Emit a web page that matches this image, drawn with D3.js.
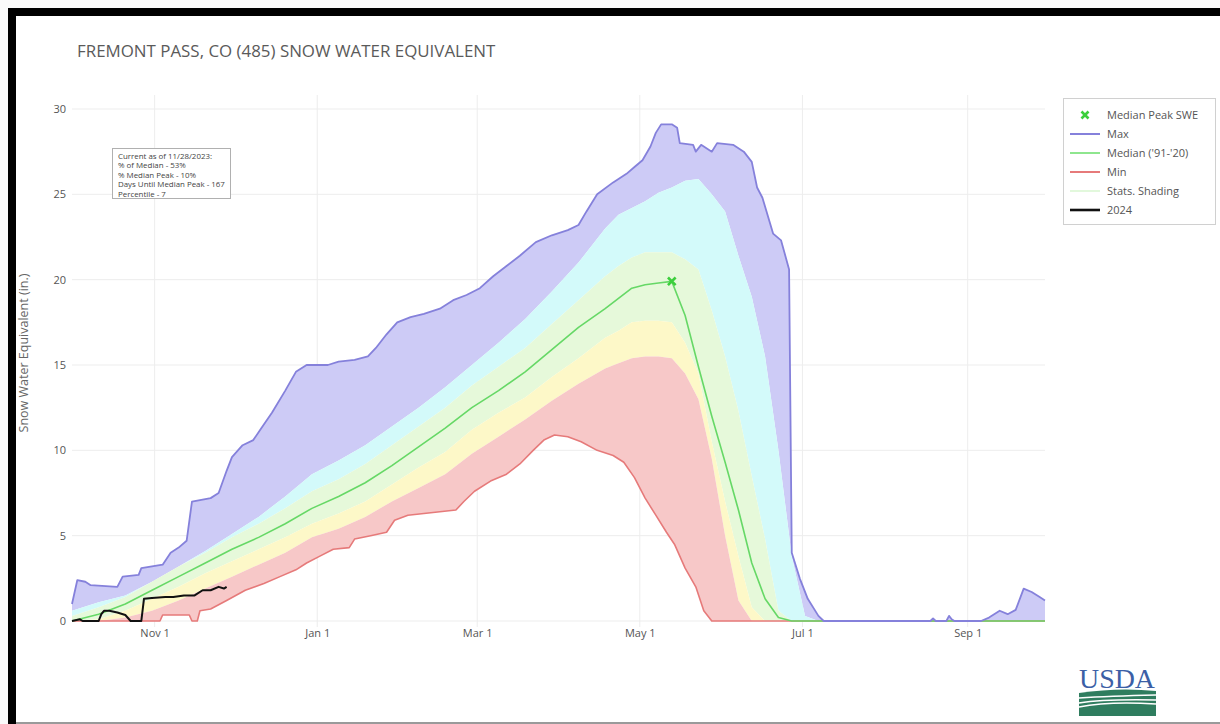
<!DOCTYPE html>
<html>
<head>
<meta charset="utf-8">
<script src="https://cdn.jsdelivr.net/npm/d3@7"></script>
<style>
  body { margin: 0; background: #fafafa; }
  svg { display: block; font-family: "Open Sans", sans-serif; }
</style>
</head>
<body>
<svg id="chart"></svg>
<script>
// days are counted from Oct 1 (start of the water year)
const pctDays = [0,10,20,30,40,50,60,70,80,90,100,110,120,130,140,150,160,170,180,190,200,205,210,215,220,225,230,235,240,245,250,255,260,265,270,275,280,290,365];
const p90 =    [0.6,1.1,1.5,2.3,3.2,4.1,5.1,6.1,7.3,8.6,9.4,10.3,11.4,12.5,13.7,15.0,16.3,17.7,19.3,21.0,23.0,23.8,24.2,24.6,25.1,25.4,25.8,25.9,25.0,24.0,21.4,19.0,15.5,10.0,3.8,0.3,0,0,0];
const p70 =    [0.3,0.8,1.4,2.3,3.2,4.0,4.9,5.7,6.6,7.6,8.3,9.2,10.3,11.4,12.5,13.8,14.9,16.0,17.4,18.8,20.2,20.8,21.3,21.6,21.6,21.6,21.2,20.6,18.2,15.5,12.3,8.5,4.8,0.6,0,0,0,0,0];
const median = [0,0.4,1.0,1.8,2.6,3.4,4.2,4.9,5.7,6.6,7.3,8.1,9.1,10.2,11.3,12.5,13.5,14.6,15.9,17.2,18.3,18.9,19.5,19.7,19.8,19.9,17.9,14.9,12.0,9.3,6.5,3.4,1.3,0.2,0,0,0,0,0];
const p30 =    [0,0.1,0.6,1.3,2.0,2.8,3.5,4.2,4.9,5.7,6.3,7.0,8.0,9.0,9.9,11.2,12.2,13.1,14.3,15.4,16.6,17.0,17.5,17.6,17.6,17.5,16.3,14.5,10.5,7.0,3.8,0.8,0,0,0,0,0,0,0];
const p10 =    [0,0,0.2,0.6,1.2,1.9,2.6,3.3,4.0,4.9,5.4,6.1,7.0,7.8,8.6,9.8,10.8,11.8,12.9,13.9,14.8,15.1,15.4,15.5,15.5,15.4,14.5,13.0,9.5,5.0,1.2,0,0,0,0,0,0,0,0];

// [day, inches]
const maxSwe = [[0,1.0],[2,2.4],[5,2.3],[7,2.1],[17,2.0],[19,2.6],[25,2.7],[26,3.1],[34,3.3],[37,4.0],[40,4.3],[43,4.7],[45,7.0],[52,7.2],[55,7.5],[58,8.8],[60,9.6],[64,10.3],[68,10.6],[71,11.3],[75,12.2],[80,13.5],[84,14.6],[88,15.0],[96,15.0],[100,15.2],[106,15.3],[111,15.5],[114,16.0],[118,16.8],[122,17.5],[127,17.8],[132,18.0],[138,18.3],[143,18.8],[148,19.1],[153,19.5],[158,20.2],[163,20.8],[168,21.4],[174,22.2],[180,22.6],[186,22.9],[190,23.2],[193,24.0],[197,25.0],[203,25.7],[208,26.2],[211,26.6],[214,27.0],[217,27.8],[219,28.6],[221,29.1],[225,29.1],[227,28.9],[228,28.0],[233,27.9],[234,27.5],[236,27.9],[240,27.5],[242,28.0],[248,27.9],[252,27.5],[255,26.9],[257,25.4],[259,24.8],[263,22.7],[266,22.3],[269,20.6],[270,4.0],[273,2.5],[276,1.3],[280,0.3],[282,0],[322,0],[323,0.15],[324,0],[328,0],[329,0.3],[330,0.1],[331,0],[341,0],[344,0.2],[348,0.6],[351,0.4],[354,0.65],[357,1.9],[360,1.7],[363,1.4],[365,1.2]];
const minSwe = [[0,0],[33,0],[34,0.35],[44,0.35],[45,0],[47,0],[48,0.6],[52,0.7],[58,1.2],[65,1.8],[72,2.2],[78,2.6],[84,3.0],[88,3.4],[93,3.8],[98,4.2],[104,4.3],[106,4.8],[112,5.0],[118,5.2],[121,5.9],[126,6.2],[132,6.3],[138,6.4],[144,6.5],[147,7.0],[151,7.6],[157,8.2],[163,8.6],[168,9.2],[173,10.0],[177,10.6],[181,10.9],[186,10.8],[191,10.5],[197,10.0],[203,9.7],[207,9.3],[211,8.4],[215,7.2],[219,6.2],[223,5.2],[226,4.5],[230,3.1],[234,2.0],[237,0.6],[240,0],[365,0]];
const wy2024 = [[0,0],[3,0.1],[4,0],[10,0],[11,0.4],[12,0.6],[14,0.6],[17,0.5],[20,0.35],[22,0],[26,0],[27,1.3],[30,1.35],[35,1.4],[38,1.4],[42,1.5],[46,1.5],[49,1.8],[52,1.8],[55,2.0],[57,1.9],[58,2.0]];
const medianPeak = [225, 19.9];

const xTickDays = [31, 92, 152, 213, 274, 336];
const xTickLabels = ["Nov 1", "Jan 1", "Mar 1", "May 1", "Jul 1", "Sep 1"];
const yTicks = [0, 5, 10, 15, 20, 25, 30];

const infoLines = ["Current as of 11/28/2023:", "% of Median - 53%", "% Median Peak - 10%", "Days Until Median Peak - 167", "Percentile - 7"];
const legendLabels = ["Median Peak SWE", "Max", "Median ('91-'20)", "Min", "Stats. Shading", "2024"];

class SweChart {
  constructor(_config) {
    this.config = {
      parentElement: _config.parentElement,
      width: 1220,
      height: 724,
      left: 72, right: 1045, top: 109, bottom: 621
    };
    this.initVis();
  }

  initVis() {
    let vis = this;
    const start = Date.UTC(2023, 9, 1);
    vis.toDate = d => new Date(start + d * 864e5);

    vis.svg = d3.select(vis.config.parentElement)
      .attr('width', vis.config.width)
      .attr('height', vis.config.height);

    // page frame
    vis.svg.append('rect').attr('x', 8).attr('y', 8).attr('width', 1212).attr('height', 716).attr('fill', '#fff');
    vis.svg.append('rect').attr('x', 8).attr('y', 8).attr('width', 1212).attr('height', 8).attr('fill', '#000');
    vis.svg.append('rect').attr('x', 8).attr('y', 8).attr('width', 8).attr('height', 716).attr('fill', '#000');
    vis.svg.append('rect').attr('x', 16).attr('y', 722).attr('width', 1204).attr('height', 2).attr('fill', '#9a9a9a');

    vis.xScale = d3.scaleUtc()
      .domain([vis.toDate(0), vis.toDate(365)])
      .range([vis.config.left, vis.config.right]);
    vis.yScale = d3.scaleLinear()
      .domain([0, 30])
      .range([vis.config.bottom, vis.config.top]);

    vis.svg.append('text')
      .attr('x', 77).attr('y', 57)
      .attr('font-size', '16.9px')
      .attr('fill', '#5a5a5a')
      .text('FREMONT PASS, CO (485) SNOW WATER EQUIVALENT');

    vis.svg.append('text')
      .attr('transform', 'translate(28,353) rotate(-90)')
      .attr('text-anchor', 'middle')
      .attr('font-size', '12.5px')
      .attr('fill', '#666')
      .text('Snow Water Equivalent (in.)');

    vis.gridG = vis.svg.append('g');
    vis.chart = vis.svg.append('g');
    vis.renderVis();
  }

  renderVis() {
    let vis = this;
    const x = d => vis.xScale(vis.toDate(d[0]));
    const y = d => vis.yScale(d[1]);
    const line = d3.line().x(x).y(y);
    const zip = vals => pctDays.map((d, i) => [d, vals[i]]);

    // gridlines
    vis.gridG.selectAll('.hgrid').data(yTicks).join('line')
      .attr('x1', vis.config.left).attr('x2', vis.config.right)
      .attr('y1', d => vis.yScale(d)).attr('y2', d => vis.yScale(d))
      .attr('stroke', '#ededed');
    vis.gridG.selectAll('.vgrid').data(xTickDays).join('line')
      .attr('x1', d => vis.xScale(vis.toDate(d))).attr('x2', d => vis.xScale(vis.toDate(d)))
      .attr('y1', 95).attr('y2', 627)
      .attr('stroke', '#ededed');

    // axes
    const yAxis = d3.axisLeft(vis.yScale).tickValues(yTicks).tickSize(0).tickPadding(6);
    const yAxisG = vis.svg.append('g').attr('transform', `translate(${vis.config.left},0)`).call(yAxis);
    const xAxis = d3.axisBottom(vis.xScale)
      .tickValues(xTickDays.map(vis.toDate))
      .tickFormat((d, i) => xTickLabels[i])
      .tickSize(0).tickPadding(8);
    const xAxisG = vis.svg.append('g').attr('transform', `translate(0,${vis.config.bottom})`).call(xAxis);
    [xAxisG, yAxisG].forEach(g => {
      g.select('.domain').remove();
      g.selectAll('text').attr('font-family', '"Open Sans", sans-serif').attr('font-size', '11px').attr('fill', '#555');
    });

    // shaded bands: upper edge forward, lower edge back
    const band = (upper, lower) => line(upper.concat(lower.slice().reverse())) + 'Z';
    const bands = [
      {up: maxSwe, lo: zip(p90), fill: '#cdcbf6'},
      {up: zip(p90), lo: zip(p70), fill: '#d3fafa'},
      {up: zip(p70), lo: zip(p30), fill: '#e6f9da'},
      {up: zip(p30), lo: zip(p10), fill: '#fdf8c8'},
      {up: zip(p10), lo: minSwe, fill: '#f7c8c8'}
    ];
    vis.chart.selectAll('.band').data(bands).join('path')
      .attr('class', 'band')
      .attr('d', d => band(d.up, d.lo))
      .attr('fill', d => d.fill)
      .attr('stroke', 'none');

    const lines = [
      {data: minSwe, color: '#e67a7a', w: 1.6},
      {data: zip(median), color: '#66d866', w: 1.6},
      {data: maxSwe, color: '#8581db', w: 1.8},
      {data: wy2024, color: '#111', w: 2}
    ];
    vis.chart.selectAll('.sline').data(lines).join('path')
      .attr('class', 'sline')
      .attr('d', d => line(d.data))
      .attr('fill', 'none')
      .attr('stroke', d => d.color)
      .attr('stroke-width', d => d.w)
      .attr('stroke-linejoin', 'round');

    // median peak marker
    const px = x(medianPeak), py = y(medianPeak);
    vis.chart.append('path')
      .attr('d', d3.symbol(d3.symbolX, 40)())
      .attr('transform', `translate(${px},${py})`)
      .attr('stroke', '#3ccf3c').attr('stroke-width', 2.6).attr('fill', 'none');

    // info box
    const info = vis.svg.append('g');
    info.append('rect')
      .attr('x', 112.5).attr('y', 148.5).attr('width', 118).attr('height', 50)
      .attr('fill', '#fff').attr('stroke', '#b0b0b0');
    info.selectAll('text').data(infoLines).join('text')
      .attr('x', 118).attr('y', (d, i) => 159 + i * 9.4)
      .attr('font-size', '7.9px').attr('fill', '#444')
      .text(d => d);

    // legend
    const lg = vis.svg.append('g');
    lg.append('rect')
      .attr('x', 1063.5).attr('y', 98.5).attr('width', 152).attr('height', 126)
      .attr('fill', '#fff').attr('stroke', '#d0d0d0');
    const items = lg.selectAll('.item').data(legendLabels).join('g')
      .attr('transform', (d, i) => `translate(1070,${115 + i * 19})`);
    items.append('text')
      .attr('x', 37).attr('y', 4)
      .attr('font-size', '11px').attr('fill', '#555')
      .text(d => d);
    const swatch = [
      null,
      {c: '#8581db', w: 2},
      {c: '#8ee68e', w: 2},
      {c: '#e67a7a', w: 2},
      {c: '#e2f8dc', w: 2},
      {c: '#111', w: 2.6}
    ];
    items.each(function(d, i) {
      const g = d3.select(this);
      if (i === 0) {
        g.append('path').attr('d', d3.symbol(d3.symbolX, 34)())
          .attr('transform', 'translate(15,0)')
          .attr('stroke', '#3ccf3c').attr('stroke-width', 2.6).attr('fill', 'none');
      } else {
        g.append('line').attr('x1', 0).attr('x2', 30).attr('y1', 0).attr('y2', 0)
          .attr('stroke', swatch[i].c).attr('stroke-width', swatch[i].w);
      }
    });

    // USDA logo
    const logo = vis.svg.append('g').attr('transform', 'translate(1079,667)');
    logo.append('text')
      .attr('x', 38).attr('y', 21).attr('text-anchor', 'middle')
      .attr('font-family', '"Liberation Serif", serif')
      .attr('font-size', '28px').attr('textLength', 76).attr('lengthAdjust', 'spacingAndGlyphs')
      .attr('fill', '#3c5fa6')
      .text('USDA');
    logo.append('path')
      .attr('d', 'M0,26 Q40,20 77,24 L77,49 L0,49 Z')
      .attr('fill', '#2f7d5f');
    logo.append('path').attr('d', 'M0,31 Q30,29 77,28').attr('stroke', '#fff').attr('stroke-width', 1.5).attr('fill', 'none');
    logo.append('path').attr('d', 'M0,36 Q25,32 77,33').attr('stroke', '#fff').attr('stroke-width', 1.5).attr('fill', 'none');
    logo.append('path').attr('d', 'M0,40 Q30,34 77,37').attr('stroke', '#fff').attr('stroke-width', 1.5).attr('fill', 'none');
  }
}

new SweChart({parentElement: '#chart'});
</script>
</body>
</html>
